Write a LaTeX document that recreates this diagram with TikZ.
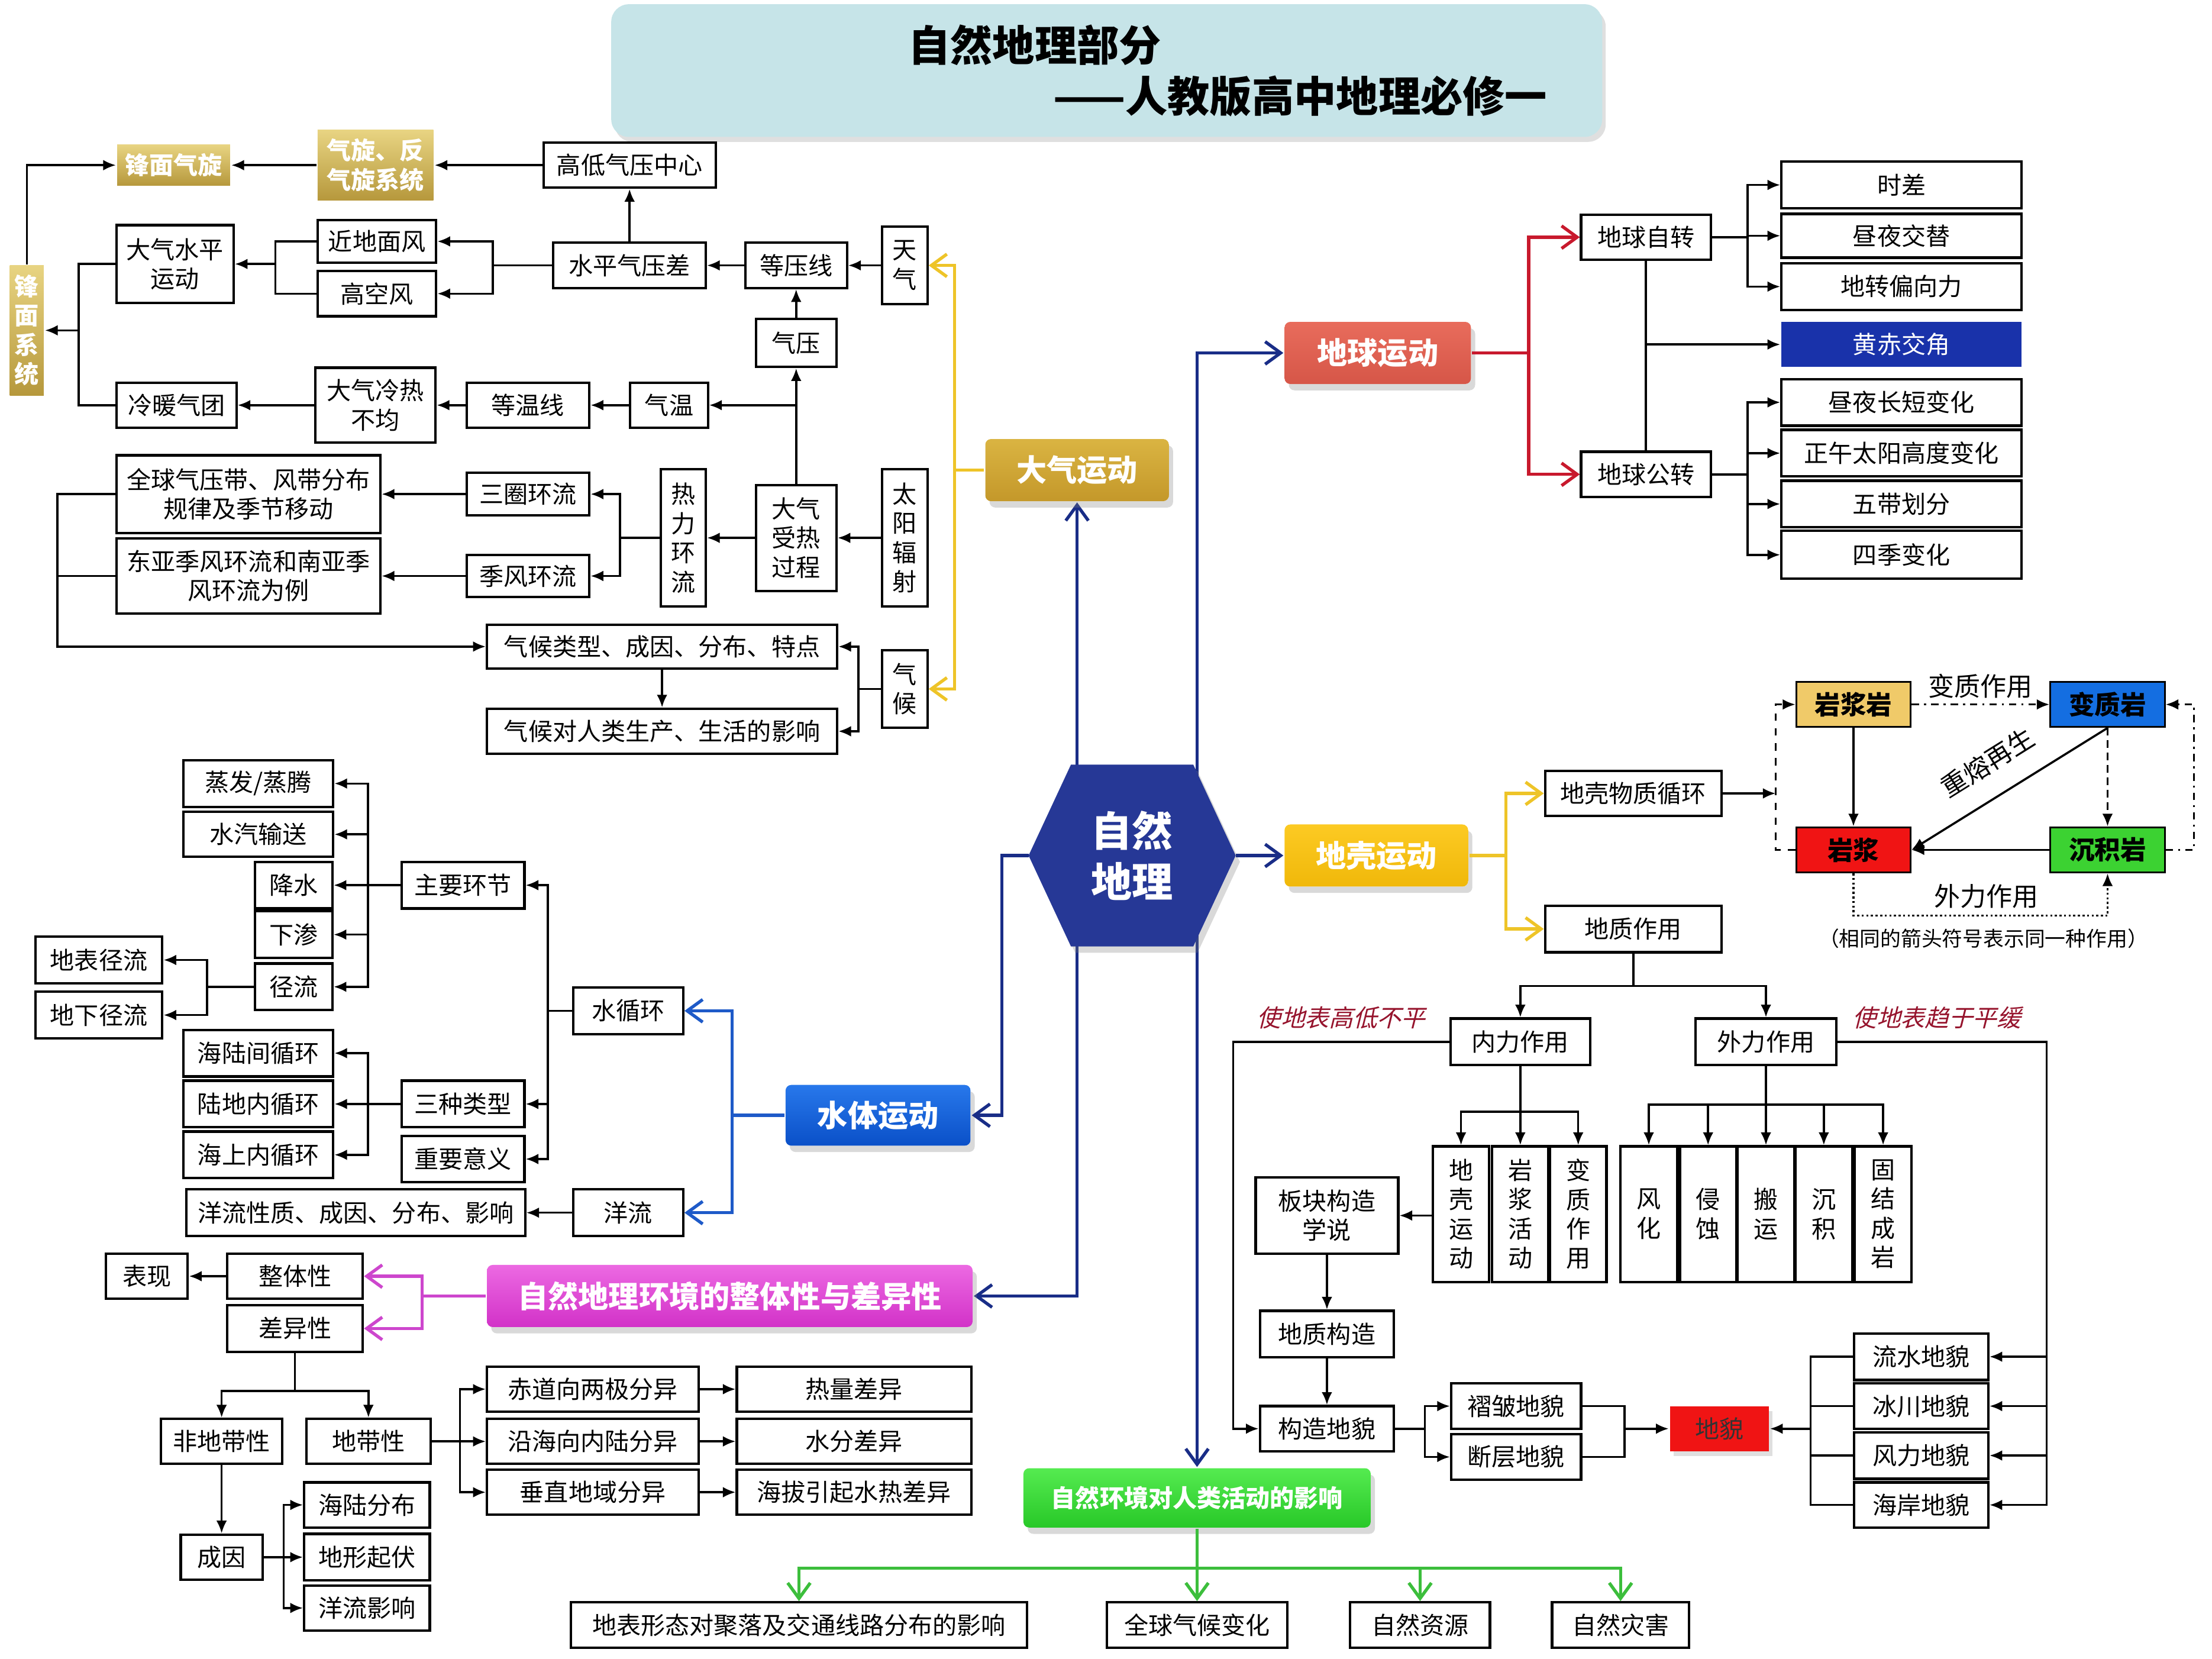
\documentclass[tikz,border=0pt]{standalone}
\usepackage{fontspec}
\setmainfont{Noto Sans CJK SC}
\newfontfamily\slantfont[FakeSlant=0.25]{Noto Sans CJK SC}
\usepackage{tikz}
\usetikzlibrary{arrows.meta, shapes.geometric, shadows, backgrounds}

\definecolor{navyLine}{RGB}{25, 45, 135}
\definecolor{goldLine}{RGB}{238, 196, 40}
\definecolor{redLine}{RGB}{200, 25, 45}
\definecolor{waterLine}{RGB}{30, 90, 200}
\definecolor{pinkLine}{RGB}{205, 70, 205}
\definecolor{greenLine}{RGB}{60, 190, 60}
\definecolor{remarkRed}{RGB}{150, 20, 45}
\definecolor{bannerFill}{RGB}{198, 228, 232}
\definecolor{atmosTop}{RGB}{218, 180, 66}
\definecolor{atmosBot}{RGB}{196, 152, 42}
\definecolor{oliveTop}{RGB}{232, 212, 130}
\definecolor{oliveBot}{RGB}{182, 152, 60}
\definecolor{earthTop}{RGB}{232, 108, 92}
\definecolor{earthBot}{RGB}{214, 86, 72}
\definecolor{crustTop}{RGB}{252, 202, 35}
\definecolor{crustBot}{RGB}{240, 184, 10}
\definecolor{waterTop}{RGB}{40, 120, 235}
\definecolor{waterBot}{RGB}{10, 80, 200}
\definecolor{wholeTop}{RGB}{236, 105, 226}
\definecolor{wholeBot}{RGB}{210, 50, 200}
\definecolor{humanTop}{RGB}{85, 235, 80}
\definecolor{humanBot}{RGB}{40, 200, 40}
\definecolor{coreFill}{RGB}{38, 56, 150}
\definecolor{obliqFill}{RGB}{25, 50, 170}
\definecolor{igneousFill}{RGB}{240, 202, 105}
\definecolor{metamFill}{RGB}{20, 110, 225}
\definecolor{magmaFill}{RGB}{240, 20, 20}
\definecolor{sedimentFill}{RGB}{60, 210, 50}

\newcommand{\boxFont}{\fontsize{9.8pt}{11.8pt}\selectfont}
\newcommand{\hubFont}{\fontsize{12.2pt}{14pt}\selectfont\bfseries}

\begin{document}
\begin{tikzpicture}[
  x=0.2mm, y=-0.2mm,
  box/.style={draw, line width=0.35mm, fill=white, inner sep=0pt, align=center, font=\boxFont},
  sz/.style 2 args={minimum width=#1*0.2mm, minimum height=#2*0.2mm},
  hub/.style={box, draw=none, rounded corners=0.8mm, text=white, font=\hubFont, drop shadow={shadow xshift=0.6mm, shadow yshift=-0.9mm, opacity=0.3}},
  goldbox/.style={box, draw=none, top color=oliveTop, bottom color=oliveBot, text=white, font=\boxFont\bfseries},
  rock/.style={box, line width=0.25mm, font=\fontsize{10.4pt}{12pt}\selectfont\bfseries},
  hexText/.style={inner sep=0pt, text=white, align=center, font=\fontsize{16.5pt}{20.5pt}\selectfont\bfseries},
  banner/.style={fill=bannerFill, rounded corners=2.5mm, inner sep=0pt, drop shadow={shadow xshift=0.5mm, shadow yshift=-0.7mm, opacity=0.25}},
  bannerText/.style={inner sep=0pt, font=\fontsize{17pt}{20pt}\selectfont\bfseries},
  lbl/.style={inner sep=0pt, font=\fontsize{10.5pt}{12pt}\selectfont},
  remark/.style={inner sep=0pt, text=remarkRed, font=\slantfont\fontsize{9.7pt}{11pt}\selectfont},
  arr/.style={line width=0.3mm, -{Latex[length=1.8mm, width=1.5mm]}},
  ln/.style={line width=0.3mm},
  barb/.style={draw=#1, line width=0.45mm, -{Straight Barb[length=2.2mm, width=3.2mm]}},
  barbs/.style={draw=#1, line width=0.45mm, {Straight Barb[length=2.2mm, width=3.2mm]}-{Straight Barb[length=2.2mm, width=3.2mm]}}
]
\useasboundingbox (0,0) rectangle (1567,1175);

\node[banner, sz={702}{94}] (head) at (784,50) {};
\node[bannerText] (headA) at (733,32) {自然地理部分};
\node[bannerText] (headB) at (921,68) {——人教版高中地理必修一};

\node[hexText, sz={146}{128}] (core) at (802,606) {自然\\地理};
\node[hub, sz={130}{44}, top color=atmosTop, bottom color=atmosBot] (atmos) at (763,333) {大气运动};
\node[hub, sz={132}{44}, top color=earthTop, bottom color=earthBot] (earthmov) at (976,250) {地球运动};
\node[hub, sz={130}{44}, top color=crustTop, bottom color=crustBot] (crust) at (975,606) {地壳运动};
\node[hub, sz={131}{43}, top color=waterTop, bottom color=waterBot] (water) at (622,790) {水体运动};
\node[hub, sz={344}{44}, top color=wholeTop, bottom color=wholeBot] (whole) at (517,918) {自然地理环境的整体性与差异性};
\node[hub, sz={246}{42}, top color=humanTop, bottom color=humanBot, font=\boxFont\bfseries] (human) at (848,1061) {自然环境对人类活动的影响};

\node[goldbox, sz={80}{29}] (frontcyc) at (123,117) {锋面气旋};
\node[goldbox, sz={82}{50}] (cycsys) at (266,117) {气旋、反\\气旋系统};
\node[box, sz={122}{32}] (hlcenter) at (446,117) {高低气压中心};
\node[goldbox, sz={24}{92}] (frontsys) at (19,234) {锋\\面\\系\\统};
\node[box, sz={83}{55}] (horizmove) at (124,187) {大气水平\\运动};
\node[box, sz={84}{30}] (surfwind) at (267,171) {近地面风};
\node[box, sz={84}{32}] (upperwind) at (267,208) {高空风};
\node[box, sz={108}{32}] (pgrad) at (446,188) {水平气压差};
\node[box, sz={72}{32}] (isobar) at (564,188) {等压线};
\node[box, sz={32}{55}] (weather) at (641,188) {天\\气};
\node[box, sz={57}{34}] (pressure) at (564,243) {气压};
\node[box, sz={55}{32}] (temp) at (474,287) {气温};
\node[box, sz={87}{32}] (isotherm) at (374,287) {等温线};
\node[box, sz={85}{53}] (uneven) at (266,287) {大气冷热\\不均};
\node[box, sz={85}{32}] (airmass) at (125,287) {冷暖气团};

\node[box, sz={32}{97}] (solar) at (641,381) {太\\阳\\辐\\射};
\node[box, sz={57}{75}] (heating) at (564,381) {大气\\受热\\过程};
\node[box, sz={32}{97}] (thermal) at (484,381) {热\\力\\环\\流};
\node[box, sz={87}{30}] (threecell) at (374,350) {三圈环流};
\node[box, sz={87}{30}] (monsoon) at (374,408) {季风环流};
\node[box, sz={187}{55}] (belts) at (176,350) {全球气压带、风带分布\\规律及季节移动};
\node[box, sz={187}{53}] (asia) at (176,408) {东亚季风环流和南亚季\\风环流为例};
\node[box, sz={248}{31}] (climtype) at (469,458) {气候类型、成因、分布、特点};
\node[box, sz={248}{32}] (climimpact) at (469,518) {气候对人类生产、生活的影响};
\node[box, sz={32}{55}] (climate) at (641,488) {气\\候};

\node[box, sz={92}{32}] (rotation) at (1166,168) {地球自转};
\node[box, sz={92}{32}] (revolution) at (1166,336) {地球公转};
\node[box, sz={170}{33}] (timediff) at (1347,131) {时差};
\node[box, sz={170}{31}] (daynight) at (1347,167) {昼夜交替};
\node[box, sz={170}{33}] (coriolis) at (1347,203) {地转偏向力};
\node[box, sz={170}{32}, draw=none, fill=obliqFill, text=white] (obliq) at (1347,244) {黄赤交角};
\node[box, sz={170}{33}] (daylen) at (1347,285) {昼夜长短变化};
\node[box, sz={170}{33}] (noon) at (1347,321) {正午太阳高度变化};
\node[box, sz={170}{33}] (zones) at (1347,357) {五带划分};
\node[box, sz={170}{34}] (seasons) at (1347,393) {四季变化};

\node[rock, sz={81}{32}, fill=igneousFill, text=black] (igneous) at (1313,499) {岩浆岩};
\node[rock, sz={81}{32}, fill=metamFill, text=black] (metam) at (1493,499) {变质岩};
\node[rock, sz={81}{32}, fill=magmaFill, text=black] (magma) at (1313,602) {岩浆};
\node[rock, sz={81}{32}, fill=sedimentFill, text=black] (sediment) at (1493,602) {沉积岩};
\node[lbl] (metlbl) at (1403,486) {变质作用};
\node[lbl, rotate=32] (remelt) at (1408,540) {重熔再生};
\node[lbl] (extlbl) at (1407,635) {外力作用};
\node[inner sep=0pt, font=\fontsize{8.3pt}{10pt}\selectfont] (legend) at (1405,665) {（相同的箭头符号表示同一种作用）};

\node[box, sz={125}{32}] (crustcyc) at (1157,562) {地壳物质循环};
\node[box, sz={125}{33}] (geoact) at (1157,658) {地质作用};
\node[box, sz={99}{33}] (internal) at (1077,738) {内力作用};
\node[box, sz={100}{33}] (external) at (1251,738) {外力作用};
\node[remark] (uplift) at (950,721) {使地表高低不平};
\node[remark] (flatten) at (1372,721) {使地表趋于平缓};
\node[box, sz={40}{96}] (crustmv) at (1035,860) {地\\壳\\运\\动};
\node[box, sz={40}{96}] (magmact) at (1077,860) {岩\\浆\\活\\动};
\node[box, sz={40}{96}] (metact) at (1118,860) {变\\质\\作\\用};
\node[box, sz={40}{96}] (weath) at (1168,860) {风\\化};
\node[box, sz={40}{96}] (erosion) at (1210,860) {侵\\蚀};
\node[box, sz={40}{96}] (transport) at (1251,860) {搬\\运};
\node[box, sz={40}{96}] (deposit) at (1292,860) {沉\\积};
\node[box, sz={40}{96}] (lithify) at (1334,860) {固\\结\\成\\岩};
\node[box, sz={101}{54}] (plate) at (940,861) {板块构造\\学说};
\node[box, sz={95}{33}] (geostruct) at (940,945) {地质构造};
\node[box, sz={95}{32}] (structland) at (940,1012) {构造地貌};
\node[box, sz={92}{32}] (fold) at (1074,996) {褶皱地貌};
\node[box, sz={92}{32}] (fault) at (1074,1032) {断层地貌};
\node[box, sz={70}{32}, draw=none, fill=magmaFill, text=black!80, drop shadow={shadow xshift=0.5mm, shadow yshift=-0.7mm, opacity=0.25}] (landform) at (1218,1012) {地貌};
\node[box, sz={95}{33}] (fluvial) at (1361,961) {流水地貌};
\node[box, sz={95}{32}] (glacial) at (1361,996) {冰川地貌};
\node[box, sz={95}{33}] (aeolian) at (1361,1031) {风力地貌};
\node[box, sz={95}{32}] (coastal) at (1361,1066) {海岸地貌};

\node[box, sz={323}{32}] (landuse) at (566,1151) {地表形态对聚落及交通线路分布的影响};
\node[box, sz={128}{32}] (climchg) at (848,1151) {全球气候变化};
\node[box, sz={99}{32}] (resource) at (1006,1151) {自然资源};
\node[box, sz={97}{32}] (disaster) at (1148,1151) {自然灾害};

\node[box, sz={106}{33}] (evap) at (183,555) {蒸发/蒸腾};
\node[box, sz={106}{32}] (vapor) at (183,591) {水汽输送};
\node[box, sz={55}{33}] (precip) at (208,627) {降水};
\node[box, sz={55}{33}] (infilt) at (208,662) {下渗};
\node[box, sz={55}{33}] (runoff) at (208,699) {径流};
\node[box, sz={90}{33}] (surfrun) at (70,680) {地表径流};
\node[box, sz={90}{33}] (undrun) at (70,719) {地下径流};
\node[box, sz={87}{33}] (links) at (328,627) {主要环节};
\node[box, sz={78}{33}] (cycle) at (445,716) {水循环};
\node[box, sz={106}{33}] (landsea) at (183,746) {海陆间循环};
\node[box, sz={106}{33}] (inland) at (183,782) {陆地内循环};
\node[box, sz={106}{33}] (ocean) at (183,818) {海上内循环};
\node[box, sz={87}{33}] (types) at (328,782) {三种类型};
\node[box, sz={87}{33}] (signif) at (328,821) {重要意义};
\node[box, sz={240}{33}] (currinfo) at (252,859) {洋流性质、成因、分布、影响};
\node[box, sz={78}{33}] (seacur) at (445,859) {洋流};

\node[box, sz={96}{32}] (unity) at (209,904) {整体性};
\node[box, sz={96}{33}] (diff) at (209,941) {差异性};
\node[box, sz={58}{32}] (express) at (104,904) {表现};
\node[box, sz={86}{32}] (azonal) at (157,1021) {非地带性};
\node[box, sz={88}{32}] (zonal) at (261,1021) {地带性};
\node[box, sz={150}{32}] (eqpole) at (420,984) {赤道向两极分异};
\node[box, sz={150}{32}] (coastin) at (420,1021) {沿海向内陆分异};
\node[box, sz={150}{32}] (vertical) at (420,1057) {垂直地域分异};
\node[box, sz={166}{32}] (heatdiff) at (605,984) {热量差异};
\node[box, sz={166}{32}] (waterdiff) at (605,1021) {水分差异};
\node[box, sz={166}{32}] (altdiff) at (605,1057) {海拔引起水热差异};
\node[box, sz={58}{32}] (cause) at (157,1103) {成因};
\node[box, sz={89}{32}] (seadist) at (260,1066) {海陆分布};
\node[box, sz={89}{33}] (relief) at (260,1103) {地形起伏};
\node[box, sz={89}{32}] (currinf) at (260,1139) {洋流影响};

\begin{scope}[on background layer]
\draw[barbs=navyLine] (atmos.south) |- (whole.east);
\draw[barbs=navyLine] (earthmov.west) -| (human.north);
\fill[coreFill, drop shadow={shadow xshift=0.6mm, shadow yshift=-0.9mm, opacity=0.3}] (core.west) -- ([xshift=6mm]core.north west) -- ([xshift=-6mm]core.north east) -- (core.east) -- ([xshift=-6mm]core.south east) -- ([xshift=6mm]core.south west) -- cycle;
\end{scope}
\draw[barb=navyLine] (core.east) -- (crust.west);
\draw[barb=navyLine] (core.west) -- ++(-19,0) |- (water.east);

\draw[arr] (weather) -- (isobar);
\draw[arr] (isobar) -- (pgrad);
\draw[arr] (pgrad) -- (hlcenter);
\draw[arr] (hlcenter) -- (cycsys);
\draw[arr] (cycsys) -- (frontcyc);
\draw[arr] (pressure) -- (isobar);
\draw[arr] (pgrad.west) -- ++(-42,0) coordinate (b1) |- (surfwind.east);
\draw[arr] (b1) |- (upperwind.east);
\draw[ln] (surfwind.west) -- ++(-29,0) coordinate (b2) |- (upperwind.west);
\draw[arr] (b2 |- horizmove) -- (horizmove.east);
\draw[arr] (frontsys.north) |- (frontcyc.west);
\draw[arr] (heating) -- (pressure);
\draw[arr] (heating.north |- temp) -- (temp);
\draw[arr] (temp) -- (isotherm);
\draw[arr] (isotherm) -- (uneven);
\draw[arr] (uneven) -- (airmass);
\draw[ln] (horizmove.west) -- ++(-26,0) coordinate (b3) |- (airmass.west);
\draw[arr] (b3 |- frontsys) -- (frontsys.east);

\draw[arr] (solar) -- (heating);
\draw[arr] (heating) -- (thermal);
\draw[arr] (thermal.west) -- ++(-28,0) coordinate (b4) |- (threecell.east);
\draw[arr] (b4) |- (monsoon.east);
\draw[arr] (threecell) -- (belts);
\draw[arr] (monsoon) -- (asia);
\draw[ln] (belts.west) -- ++(-41,0) coordinate (b5) |- (asia.west);
\draw[arr] (b5) |- (climtype.west);
\draw[arr] (climate.west) -- ++(-16,0) coordinate (b6) |- (climtype.east);
\draw[arr] (b6) |- (climimpact.east);
\draw[arr] (climtype) -- (climimpact);
\draw[barb=goldLine] (atmos.west) -- ++(-21,0) coordinate (b7) |- (weather.east);
\draw[barb=goldLine] (b7) |- (climate.east);

\draw[barb=redLine] (earthmov.east) -- ++(40,0) coordinate (b8) |- (rotation.west);
\draw[barb=redLine] (b8) |- (revolution.west);
\draw[arr] (rotation.east) -- ++(25,0) coordinate (b9) |- (timediff.west);
\draw[arr] (b9) |- (daynight.west);
\draw[arr] (b9) |- (coriolis.west);
\draw[ln] (rotation) -- (revolution);
\draw[arr] (rotation.south |- obliq) -- (obliq.west);
\draw[arr] (revolution.east) -- ++(25,0) coordinate (b10) |- (daylen.west);
\draw[arr] (b10) |- (noon.west);
\draw[arr] (b10) |- (zones.west);
\draw[arr] (b10) |- (seasons.west);

\draw[arr, dash dot] (igneous) -- (metam);
\draw[arr] (igneous) -- (magma);
\draw[arr] (metam.south) -- (magma.east);
\draw[arr] (sediment) -- (magma);
\draw[arr, densely dashed] (metam) -- (sediment);
\draw[arr, densely dotted] (magma.south) -- ++(0,30) -| (sediment.south);
\draw[arr, dashed] (magma.west) -- ++(-14,0) coordinate (b11) |- (igneous.west);
\draw[arr, dash dot] (sediment.east) -- ++(20,0) |- (metam.east);
\draw[arr] (crustcyc.east) -- (crustcyc.east -| b11);

\draw[barb=goldLine] (crust.east) -- ++(26,0) coordinate (b12) |- (crustcyc.west);
\draw[barb=goldLine] (b12) |- (geoact.west);
\draw[ln] (geoact.south) -- ++(0,23) coordinate (b13);
\draw[arr] (b13) -| (internal.north);
\draw[arr] (b13) -| (external.north);
\path (internal.south) ++(0,32) coordinate (b14);
\draw[arr] (internal) -- (magmact);
\draw[arr] (b14) -| (crustmv.north);
\draw[arr] (b14) -| (metact.north);
\path (external.south) ++(0,27) coordinate (b15);
\draw[arr] (external) -- (transport);
\draw[arr] (b15) -| (weath.north);
\draw[arr] (b15) -| (erosion.north);
\draw[arr] (b15) -| (deposit.north);
\draw[arr] (b15) -| (lithify.north);
\draw[arr] (crustmv.west |- plate) -- (plate.east);
\draw[arr] (plate) -- (geostruct);
\draw[arr] (geostruct) -- (structland);
\draw[arr] (internal.west) -- ++(-153,0) |- (structland.west);
\draw[arr] (structland.east) -- ++(21,0) coordinate (b16) |- (fold.west);
\draw[arr] (b16) |- (fault.west);
\draw[ln] (fold.east) -- ++(30,0) coordinate (b17) |- (fault.east);
\draw[arr] (b17 |- landform) -- (landform.west);
\draw[ln] (fluvial.west) -- ++(-30,0) coordinate (b18) |- (coastal.west);
\draw[ln] (b18 |- glacial) -- (glacial.west);
\draw[ln] (b18 |- aeolian) -- (aeolian.west);
\draw[arr] (b18 |- landform) -- (landform.east);
\draw[arr] (external.east) -- ++(148,0) coordinate (b19) |- (coastal.east);
\draw[arr] (b19 |- fluvial) -- (fluvial.east);
\draw[arr] (b19 |- glacial) -- (glacial.east);
\draw[arr] (b19 |- aeolian) -- (aeolian.east);

\draw[barb=greenLine] (human) -- (climchg);
\path (human.south) ++(0,28) coordinate (b20);
\draw[barb=greenLine] (b20) -| (landuse.north);
\draw[barb=greenLine] (b20) -| (resource.north);
\draw[barb=greenLine] (b20) -| (disaster.north);

\draw[barb=waterLine] (water.west) -- ++(-37,0) coordinate (b21) |- (cycle.east);
\draw[barb=waterLine] (b21) |- (seacur.east);
\draw[arr] (cycle.west) -- ++(-17,0) coordinate (b22) |- (links.east);
\draw[arr] (b22) |- (types.east);
\draw[arr] (b22) |- (signif.east);
\draw[arr] (links.west) -- ++(-23,0) coordinate (b23) |- (evap.east);
\draw[arr] (b23) |- (vapor.east);
\draw[arr] (b23) |- (precip.east);
\draw[arr] (b23) |- (infilt.east);
\draw[arr] (b23) |- (runoff.east);
\draw[ln] (runoff.west) -- ++(-33,0) coordinate (b24);
\draw[arr] (b24) |- (surfrun.east);
\draw[arr] (b24) |- (undrun.east);
\draw[arr] (types.west) -- ++(-23,0) coordinate (b25) |- (landsea.east);
\draw[arr] (b25) |- (inland.east);
\draw[arr] (b25) |- (ocean.east);
\draw[arr] (seacur) -- (currinfo);

\draw[barb=pinkLine] (whole.west) -- ++(-45,0) coordinate (b26) |- (unity.east);
\draw[barb=pinkLine] (b26) |- (diff.east);
\draw[arr] (unity) -- (express);
\draw[ln] (diff.south) -- ++(0,27) coordinate (b27);
\draw[arr] (b27) -| (azonal.north);
\draw[arr] (b27) -| (zonal.north);
\draw[arr] (zonal.east) -- ++(20,0) coordinate (b28) |- (eqpole.west);
\draw[arr] (b28) |- (coastin.west);
\draw[arr] (b28) |- (vertical.west);
\draw[arr] (eqpole) -- (heatdiff);
\draw[arr] (coastin) -- (waterdiff);
\draw[arr] (vertical) -- (altdiff);
\draw[arr] (azonal) -- (cause);
\draw[arr] (cause.east) -- ++(14,0) coordinate (b29) |- (seadist.west);
\draw[arr] (b29) |- (relief.west);
\draw[arr] (b29) |- (currinf.west);
\end{tikzpicture}
\end{document}
